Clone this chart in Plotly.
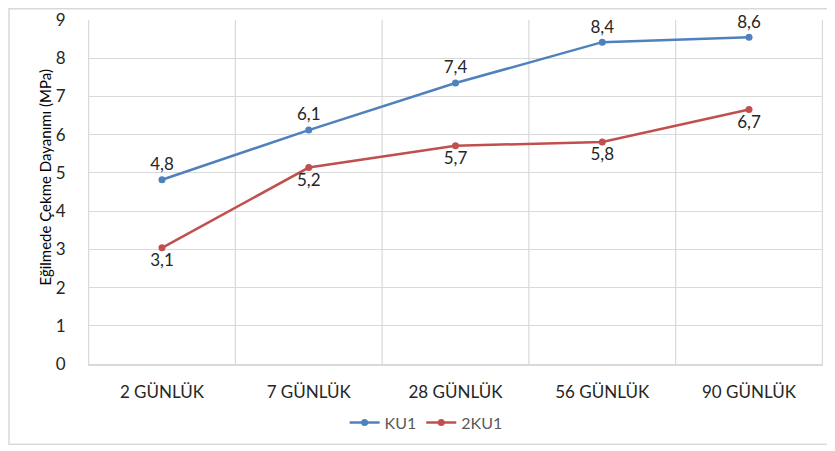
import plotly.graph_objects as go

categories = ["2 GÜNLÜK", "7 GÜNLÜK", "28 GÜNLÜK", "56 GÜNLÜK", "90 GÜNLÜK"]
ku1_values = [4.82, 6.12, 7.35, 8.42, 8.55]
ku1_labels = ["4,8", "6,1", "7,4", "8,4", "8,6"]
ku2_values = [3.04, 5.14, 5.71, 5.81, 6.66]
ku2_labels = ["3,1", "5,2", "5,7", "5,8", "6,7"]
y_ticks = [0, 1, 2, 3, 4, 5, 6, 7, 8, 9]
y_title = "Eğilmede Çekme Dayanımı (MPa)"

FONT = "Lato"
BLUE = "#4F81BD"
RED = "#C0504D"
GRID = "#D9D9D9"

fig = go.Figure()
fig.add_trace(go.Scatter(
    x=categories, y=ku1_values, name="KU1", mode="lines+markers+text",
    line=dict(color=BLUE, width=2.5), marker=dict(size=7, color=BLUE),
    text=ku1_labels, textposition="top center", cliponaxis=False,
    textfont=dict(family=FONT, size=17, color="#262626"),
))
fig.add_trace(go.Scatter(
    x=categories, y=ku2_values, name="2KU1", mode="lines+markers+text",
    line=dict(color=RED, width=2.5), marker=dict(size=7, color=RED),
    text=ku2_labels, textposition="bottom center", cliponaxis=False,
    textfont=dict(family=FONT, size=17, color="#262626"),
))

# outer chart-area border
fig.add_shape(type="rect", xref="paper", yref="paper",
              x0=-0.1075, x1=1.03, y0=-0.2334, y1=1.033,
              line=dict(color=GRID, width=1.5), fillcolor="rgba(0,0,0,0)",
              layer="below")

# y-axis title
fig.add_annotation(text=y_title, xref="paper", yref="paper", x=-0.0585, y=0.542,
                   textangle=-90, showarrow=False, xanchor="center", yanchor="middle",
                   font=dict(family=FONT, size=15, color="#000000"))

fig.update_layout(
    width=827, height=443,
    margin=dict(l=80, r=12, t=12, b=84),
    paper_bgcolor="white", plot_bgcolor="white",
    font=dict(family=FONT, color="#262626"),
    showlegend=True,
    legend=dict(orientation="h", x=0.46, xanchor="center", y=-0.17, yanchor="middle",
                font=dict(family=FONT, size=16, color="#595959"),
                itemwidth=30, tracegroupgap=0),
    xaxis=dict(
        type="category", showgrid=False, automargin=False,
        showline=True, linecolor=GRID, linewidth=1.5, layer="below traces",
        tickfont=dict(family=FONT, size=17, color="#262626"),
        ticks="outside", ticklen=12, tickcolor="rgba(0,0,0,0)",
    ),
    yaxis=dict(
        range=[0, 9], tickvals=y_ticks, showgrid=True, gridcolor=GRID, gridwidth=1.2,
        zeroline=False, showline=False, automargin=False, layer="below traces",
        tickfont=dict(family=FONT, size=17, color="#262626"),
        ticks="outside", ticklen=18, tickcolor="rgba(0,0,0,0)",
    ),
)

# vertical category separator gridlines
for i in range(len(categories) + 1):
    fig.add_shape(type="line", xref="x", yref="paper",
                  x0=i - 0.5, x1=i - 0.5, y0=0, y1=1,
                  line=dict(color=GRID, width=1.2), layer="below")

fig.write_html("out.html")
